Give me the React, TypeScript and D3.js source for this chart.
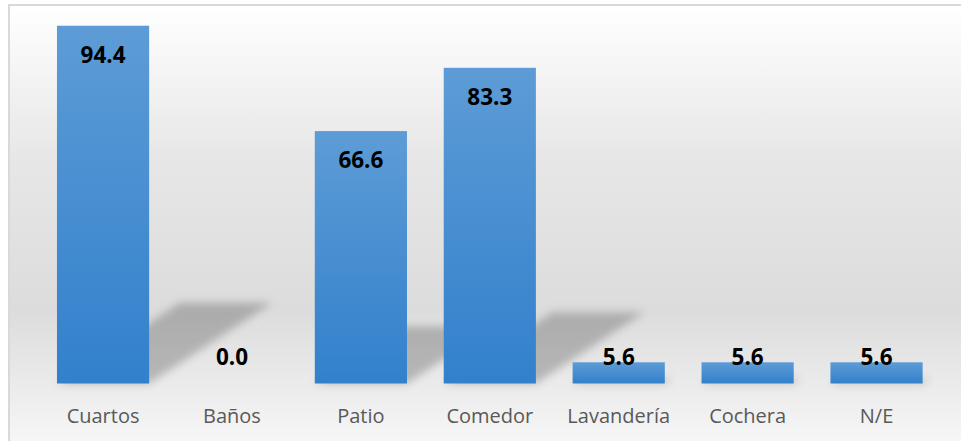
import React, { useEffect, useRef } from 'react';
import * as d3 from 'd3';

const categories = ['Cuartos', 'Baños', 'Patio', 'Comedor', 'Lavandería', 'Cochera', 'N/E'];
const values = [94.4, 0.0, 66.6, 83.3, 5.6, 5.6, 5.6];
const yDomain = [0, 100];

export default function App() {
  const svgRef = useRef<SVGSVGElement>(null);

  useEffect(() => {
    if (!svgRef.current) return;
    const svg = d3.select(svgRef.current);
    svg.selectAll('*').remove();

    const width = 961;
    const height = 441;
    const baseY = 383.5;

    const defs = svg.append('defs');

    // chart area background: white -> grey -> white
    const bg = defs.append('linearGradient')
      .attr('id', 'bgGrad')
      .attr('x1', 0).attr('y1', 0).attr('x2', 0).attr('y2', 1);
    [
      [0, '#ffffff'],
      [0.33, '#e7e7e7'],
      [0.66, '#dcdcdc'],
      [0.87, '#efefef'],
      [1, '#fcfcfc'],
    ].forEach(([o, c]) => bg.append('stop').attr('offset', o as number).attr('stop-color', c as string));

    const barGrad = defs.append('linearGradient')
      .attr('id', 'barGrad')
      .attr('x1', 0).attr('y1', 0).attr('x2', 0).attr('y2', 1);
    barGrad.append('stop').attr('offset', 0).attr('stop-color', '#5d9cd6');
    barGrad.append('stop').attr('offset', 1).attr('stop-color', '#3280cc');

    defs.append('filter')
      .attr('id', 'blur')
      .attr('x', '-20%').attr('y', '-20%').attr('width', '140%').attr('height', '140%')
      .append('feGaussianBlur')
      .attr('stdDeviation', 4);

    svg.append('rect')
      .attr('x', 9).attr('y', 5)
      .attr('width', width + 20).attr('height', height + 20)
      .attr('fill', 'url(#bgGrad)')
      .attr('stroke', '#d9d9d9')
      .attr('stroke-width', 2);

    const x = d3.scaleBand<string>()
      .domain(categories)
      .range([38.6, 941])
      .paddingInner(0.285)
      .paddingOuter(0.1425);

    const y = d3.scaleLinear().domain(yDomain).range([baseY, 4.5]);

    // perspective shadows behind bars
    const skewX = 0.344;
    const skewY = 0.226;
    svg.append('g')
      .attr('filter', 'url(#blur)')
      .selectAll('polygon')
      .data(values.map((v, i) => ({ v, c: categories[i] })).filter(d => d.v > 0))
      .join('polygon')
      .attr('points', d => {
        const x0 = x(d.c)!;
        const x1 = x0 + x.bandwidth();
        const h = baseY - y(d.v);
        const dx = h * skewX;
        const ty = baseY - h * skewY;
        return [[x0, baseY], [x1, baseY], [x1 + dx, ty], [x0 + dx, ty]].map(p => p.join(',')).join(' ');
      })
      .attr('fill', '#000')
      .attr('fill-opacity', 0.22);

    // bars
    svg.append('g')
      .selectAll('rect')
      .data(values)
      .join('rect')
      .attr('x', (_, i) => x(categories[i])!)
      .attr('width', x.bandwidth())
      .attr('y', d => y(d))
      .attr('height', d => baseY - y(d))
      .attr('fill', 'url(#barGrad)');

    // value labels
    svg.append('g')
      .selectAll('text')
      .data(values)
      .join('text')
      .attr('x', (_, i) => x(categories[i])! + x.bandwidth() / 2)
      .attr('y', d => Math.min(y(d) + 37, baseY - 18.5))
      .attr('text-anchor', 'middle')
      .attr('font-family', '"Open Sans", sans-serif')
      .attr('font-weight', 'bold')
      .attr('font-size', 22.5)
      .attr('fill', '#000')
      .text(d => d.toFixed(1));

    // category labels
    svg.append('g')
      .selectAll('text')
      .data(categories)
      .join('text')
      .attr('x', d => x(d)! + x.bandwidth() / 2)
      .attr('y', 422.5)
      .attr('text-anchor', 'middle')
      .attr('font-family', '"Open Sans", sans-serif')
      .attr('font-size', 20)
      .attr('fill', '#595959')
      .text(d => d);
  }, []);

  return (
    <svg
      ref={svgRef}
      width={961}
      height={441}
      style={{ position: 'absolute', left: 0, top: 0, display: 'block' }}
    />
  );
}
